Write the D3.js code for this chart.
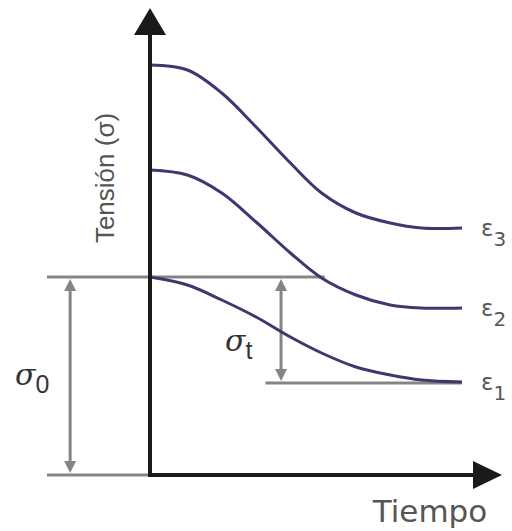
<!DOCTYPE html>
<html>
<head>
<meta charset="utf-8">
<script src="https://cdn.jsdelivr.net/npm/d3@7"></script>
<style>
  html, body { margin: 0; padding: 0; background: #fff; }
  svg { display: block; }
</style>
</head>
<body>
<script>
// time points (arbitrary units)
const tiempo = [0, 1.2, 2.3, 3.4, 4.5, 5.5, 6.6, 7.7, 8.7, 10];
// stress for each strain level
const eps3 = [20.5, 20.25, 19.1, 17.4, 15.6, 14.1, 13.1, 12.6, 12.35, 12.35];
const eps2 = [15.25, 15.0, 14.1, 12.65, 11.1, 9.85, 9.0, 8.5, 8.35, 8.35];
const eps1 = [9.9, 9.5, 8.75, 7.9, 6.9, 6.1, 5.4, 5.0, 4.75, 4.65];
const curveLabels = ['3', '2', '1'];

const sigma0 = 9.9;   // initial stress
const sigmaT = 4.6;   // relaxed stress of eps1

const w = 512, h = 531;

const xScale = d3.scaleLinear().domain([0, 10]).range([150, 462]);
const yScale = d3.scaleLinear().domain([0, 22]).range([475, 35]);

const svg = d3.select('body').append('svg')
  .attr('width', w)
  .attr('height', h);

const grey = '#858585';
const navy = '#3a3a70';

// grey guide lines
const guides = [
  [-3.3, 0, 0],          // baseline left of origin
  [-3.3, 5.6, sigma0],   // sigma0 level
  [3.7, 10, sigmaT]      // relaxed level
];
svg.selectAll('line.guide').data(guides).enter().append('line')
  .attr('class', 'guide')
  .attr('x1', d => xScale(d[0]))
  .attr('x2', d => xScale(d[1]))
  .attr('y1', d => yScale(d[2]))
  .attr('y2', d => yScale(d[2]))
  .attr('stroke', grey)
  .attr('stroke-width', 3);

// double headed grey arrows
function dblArrow(t, s1, s2) {
  const x = xScale(t), ya = yScale(s1), yb = yScale(s2);
  svg.append('line')
    .attr('x1', x).attr('x2', x)
    .attr('y1', ya + 8).attr('y2', yb - 8)
    .attr('stroke', grey).attr('stroke-width', 3);
  svg.append('path')
    .attr('d', `M${x},${ya + 2} L${x - 6},${ya + 14} L${x + 6},${ya + 14} Z`)
    .attr('fill', grey);
  svg.append('path')
    .attr('d', `M${x},${yb - 2} L${x - 6},${yb - 14} L${x + 6},${yb - 14} Z`)
    .attr('fill', grey);
}
dblArrow(-2.56, sigma0, 0);
dblArrow(4.2, sigma0, sigmaT);

// relaxation curves
const line = d3.line()
  .x(d => xScale(d[0]))
  .y(d => yScale(d[1]))
  .curve(d3.curveCatmullRom.alpha(0.5));

const series = [eps3, eps2, eps1];
svg.selectAll('path.curve').data(series).enter().append('path')
  .attr('class', 'curve')
  .attr('d', d => line(tiempo.map((t, i) => [t, d[i]])))
  .attr('fill', 'none')
  .attr('stroke', navy)
  .attr('stroke-width', 3);

// axes with arrow heads
const x0 = xScale(0), y0 = yScale(0);
svg.append('line')
  .attr('x1', x0).attr('x2', x0)
  .attr('y1', y0 + 1.5).attr('y2', 30)
  .attr('stroke', '#1a1a1a').attr('stroke-width', 4);
svg.append('path')
  .attr('d', `M${x0},8 L${x0 - 16},35 L${x0 + 16},35 Z`)
  .attr('fill', '#1a1a1a');
svg.append('line')
  .attr('x1', x0 - 2).attr('x2', 478)
  .attr('y1', y0).attr('y2', y0)
  .attr('stroke', '#1a1a1a').attr('stroke-width', 4);
svg.append('path')
  .attr('d', `M502,${y0} L473,${y0 - 14} L473,${y0 + 14} Z`)
  .attr('fill', '#1a1a1a');

// axis titles
svg.append('text')
  .attr('transform', 'translate(114,178) rotate(-90)')
  .attr('text-anchor', 'middle')
  .style('font-family', 'Liberation Sans, Arial, sans-serif')
  .style('font-size', '26px')
  .attr('fill', '#555')
  .text('Tensión (σ)');

svg.append('text')
  .attr('x', 430).attr('y', 522)
  .attr('text-anchor', 'middle')
  .style('font-family', 'DejaVu Sans, sans-serif')
  .style('font-size', '31px')
  .attr('fill', '#555')
  .text('Tiempo');

// sigma labels
function sigmaLabel(x, y, sub) {
  const t = svg.append('text')
    .attr('x', x).attr('y', y)
    .attr('fill', '#333')
    .style('font-family', 'DejaVu Serif, serif');
  t.append('tspan')
    .style('font-style', 'italic')
    .style('font-size', '30px')
    .text('σ');
  t.append('tspan')
    .attr('dy', 8)
    .style('font-family', 'Liberation Sans, Arial, sans-serif')
    .style('font-size', '25px')
    .text(sub);
}
sigmaLabel(15, 385, '0');
sigmaLabel(225, 351, 't');

// epsilon labels at curve ends
svg.selectAll('text.eps').data(series).enter().append('text')
  .attr('class', 'eps')
  .attr('x', 481)
  .attr('y', d => yScale(d[d.length - 1]) + 8)
  .attr('fill', '#555')
  .style('font-family', 'DejaVu Sans, sans-serif')
  .each(function (d, i) {
    const t = d3.select(this);
    t.append('tspan').style('font-size', '23px').text('ε');
    t.append('tspan').attr('dy', 10).style('font-size', '20px').text(curveLabels[i]);
  });
</script>
</body>
</html>
